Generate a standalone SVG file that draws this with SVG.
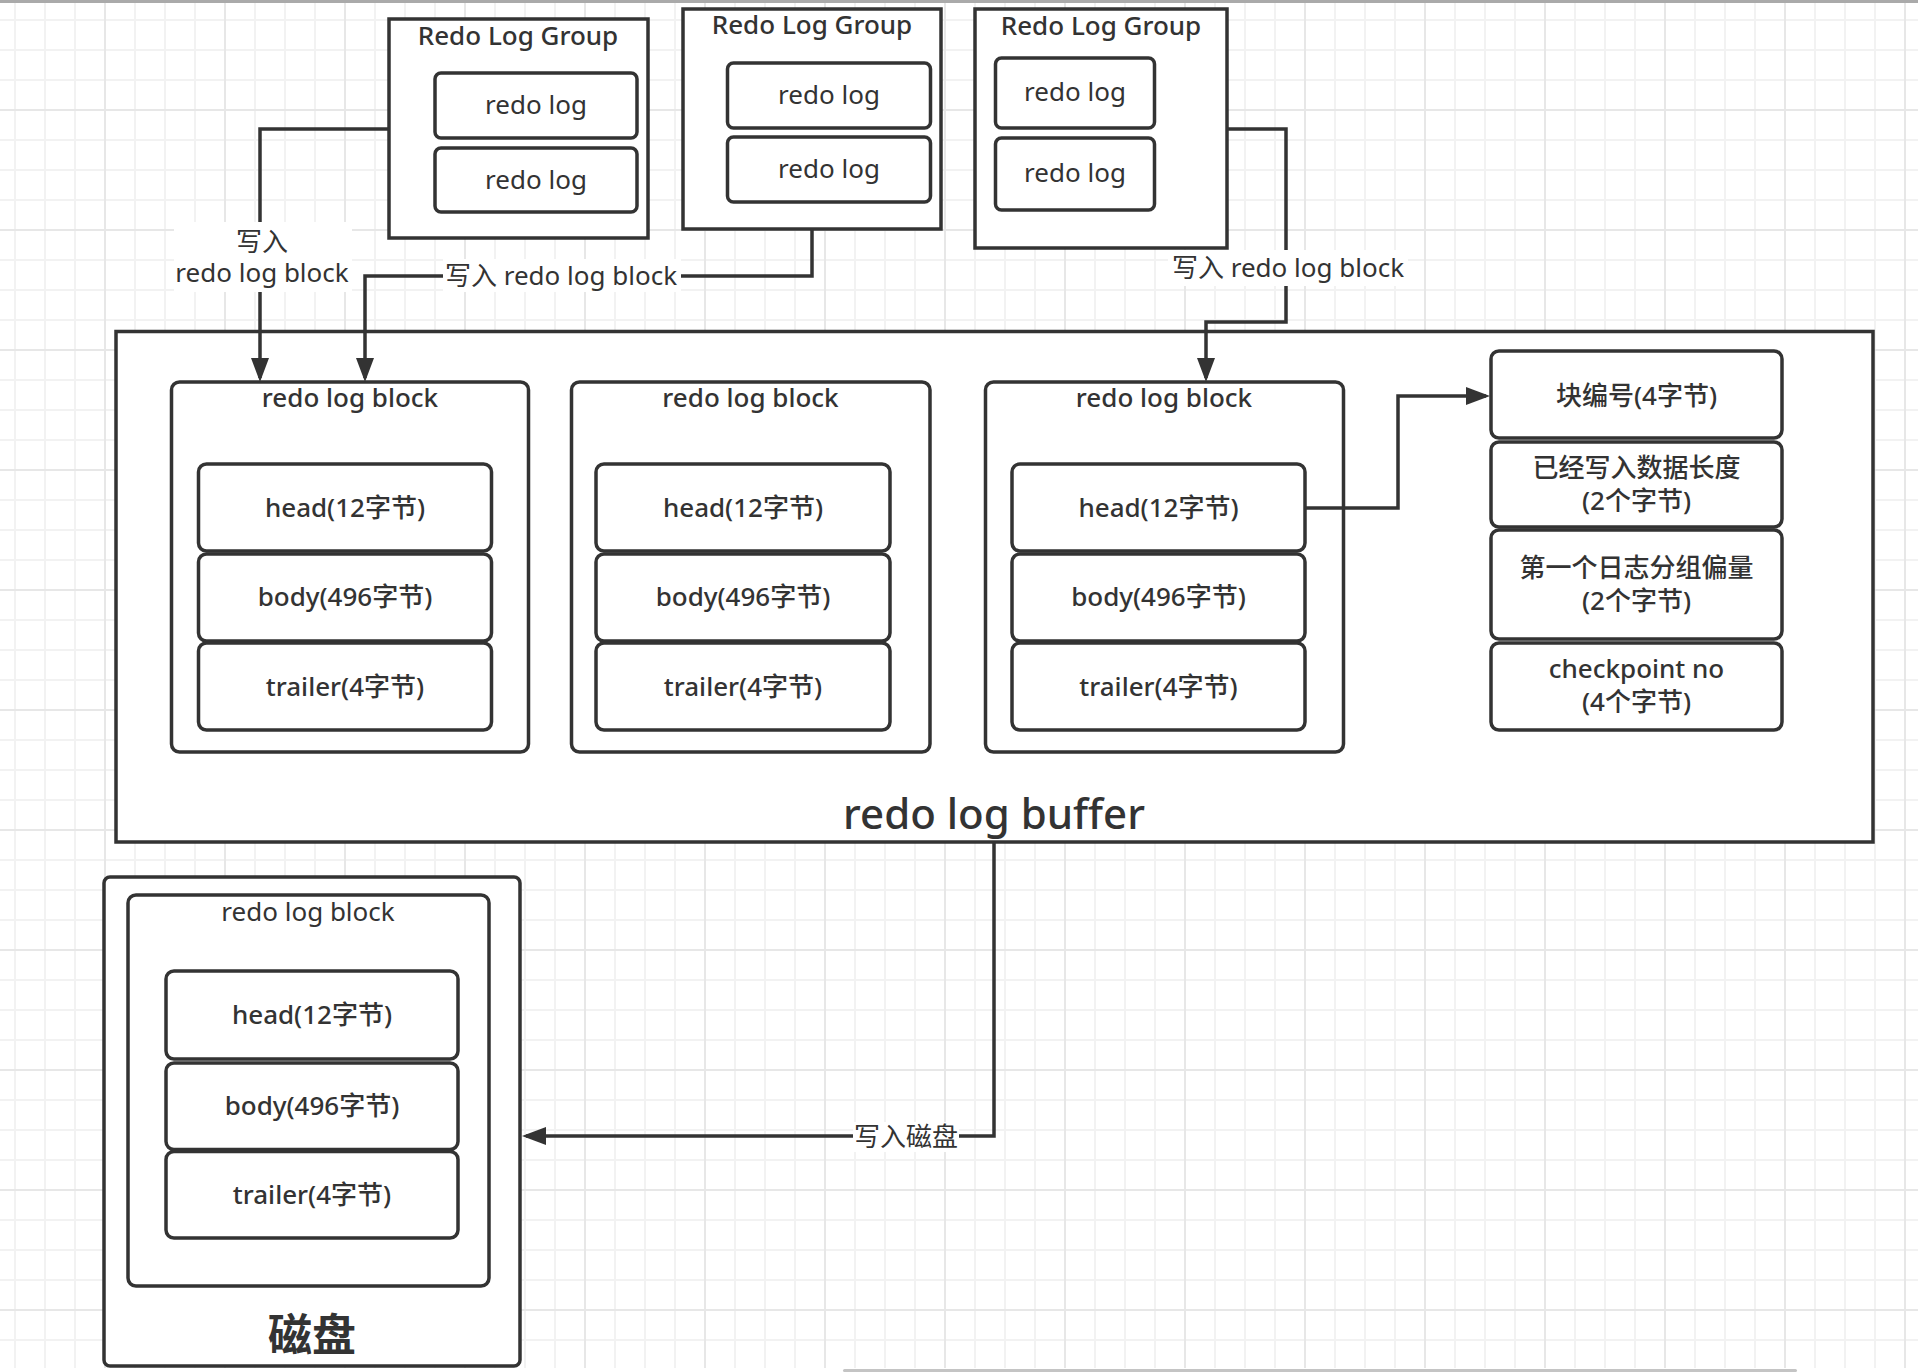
<svg xmlns="http://www.w3.org/2000/svg" width="1918" height="1372" viewBox="0 0 1918 1372">
<style>
.box{fill:#fff;stroke:#333;stroke-width:3.5}
.con{fill:none;stroke:#333;stroke-width:3.5}
.lbg{fill:#fff}
text{font-family:"Noto Sans","Noto Sans CJK SC",sans-serif;font-size:26px;fill:#333;text-anchor:middle}
.m{font-weight:500}
.big{font-size:42px;font-weight:500}
.disk{font-size:44px;font-weight:700}
</style>
<defs>
<pattern id="grid" patternUnits="userSpaceOnUse" x="14" y="19" width="120" height="120">
<path d="M1,0V120M31,0V120M61,0V120M0,1H120M0,31H120M0,61H120" stroke="#f2f2f2" stroke-width="2"/>
<path d="M91,0V120M0,91H120" stroke="#e7e7e7" stroke-width="2"/>
</pattern>
<marker id="arr" markerUnits="userSpaceOnUse" markerWidth="26" markerHeight="18" refX="20" refY="9" orient="auto">
<path d="M0,0L24,9L0,18z" fill="#333"/>
</marker>
</defs>
<rect width="1918" height="1372" fill="#fff"/>
<rect x="0" y="3" width="1918" height="1365" fill="url(#grid)"/>
<rect x="0" y="0" width="1918" height="3" fill="#aaa"/>
<rect x="843" y="1369" width="954" height="3" rx="1.5" fill="#c4c4c4"/>

<g id="group1">
<rect class="box" x="389" y="19" width="259" height="219"/>
<text class="m" x="518" y="45">Redo Log Group</text>
<rect class="box" x="435" y="73" width="202" height="65" rx="6"/>
<text x="536" y="114">redo log</text>
<rect class="box" x="435" y="148" width="202" height="64" rx="6"/>
<text x="536" y="189">redo log</text>
</g>
<g id="group2">
<rect class="box" x="683" y="9" width="258" height="220"/>
<text class="m" x="812" y="34">Redo Log Group</text>
<rect class="box" x="727.5" y="63" width="203" height="65" rx="6"/>
<text x="829" y="104">redo log</text>
<rect class="box" x="727.5" y="137" width="203" height="65" rx="6"/>
<text x="829" y="178">redo log</text>
</g>
<g id="group3">
<rect class="box" x="975" y="9" width="252" height="239"/>
<text class="m" x="1101" y="35">Redo Log Group</text>
<rect class="box" x="995.5" y="58" width="159" height="70" rx="6"/>
<text x="1075" y="101">redo log</text>
<rect class="box" x="995.5" y="138" width="159" height="72" rx="6"/>
<text x="1075" y="182">redo log</text>
</g>

<g id="buffer">
<rect class="box" x="116" y="331.5" width="1757" height="510.5"/>
<text class="big" x="994" y="829">redo log buffer</text>
</g>

<g id="block1">
<rect class="box" x="171.5" y="382" width="357" height="370" rx="8"/>
<text class="m" x="350" y="407">redo log block</text>
<rect class="box" x="198.5" y="464" width="293" height="87" rx="8"/>
<text class="m" x="345" y="517">head(12字节)</text>
<rect class="box" x="198.5" y="554" width="293" height="87" rx="8"/>
<text class="m" x="345" y="606">body(496字节)</text>
<rect class="box" x="198.5" y="643" width="293" height="87" rx="8"/>
<text class="m" x="345" y="696">trailer(4字节)</text>
</g>
<g id="block2">
<rect class="box" x="571.5" y="382" width="358.5" height="370" rx="8"/>
<text class="m" x="750.5" y="407">redo log block</text>
<rect class="box" x="596" y="464" width="294" height="87" rx="8"/>
<text class="m" x="743" y="517">head(12字节)</text>
<rect class="box" x="596" y="554" width="294" height="87" rx="8"/>
<text class="m" x="743" y="606">body(496字节)</text>
<rect class="box" x="596" y="643" width="294" height="87" rx="8"/>
<text class="m" x="743" y="696">trailer(4字节)</text>
</g>
<g id="block3">
<rect class="box" x="985.5" y="382" width="358" height="370" rx="8"/>
<text class="m" x="1164" y="407">redo log block</text>
<rect class="box" x="1012" y="464" width="293" height="87" rx="8"/>
<text class="m" x="1158.5" y="517">head(12字节)</text>
<rect class="box" x="1012" y="554" width="293" height="87" rx="8"/>
<text class="m" x="1158.5" y="606">body(496字节)</text>
<rect class="box" x="1012" y="643" width="293" height="87" rx="8"/>
<text class="m" x="1158.5" y="696">trailer(4字节)</text>
</g>

<g id="headfields">
<rect class="box" x="1491" y="351" width="291" height="87" rx="8"/>
<text class="m" x="1636.5" y="405">块编号(4字节)</text>
<rect class="box" x="1491" y="442" width="291" height="85" rx="8"/>
<text class="m" x="1636.5" y="477">已经写入数据长度</text>
<text class="m" x="1636.5" y="510">(2个字节)</text>
<rect class="box" x="1491" y="530" width="291" height="109" rx="8"/>
<text class="m" x="1636.5" y="577">第一个日志分组偏量</text>
<text class="m" x="1636.5" y="610">(2个字节)</text>
<rect class="box" x="1491" y="643" width="291" height="87" rx="8"/>
<text class="m" x="1636.5" y="678">checkpoint no</text>
<text class="m" x="1636.5" y="711">(4个字节)</text>
</g>

<g id="disk">
<rect class="box" x="104" y="877" width="416" height="489" rx="6"/>
<rect class="box" x="128" y="895" width="361" height="391" rx="8"/>
<text x="308" y="921">redo log block</text>
<rect class="box" x="166" y="971" width="292" height="88" rx="8"/>
<text class="m" x="312" y="1024">head(12字节)</text>
<rect class="box" x="166" y="1063" width="292" height="86.5" rx="8"/>
<text class="m" x="312" y="1115">body(496字节)</text>
<rect class="box" x="166" y="1151.5" width="292" height="86.5" rx="8"/>
<text class="m" x="312" y="1204">trailer(4字节)</text>
<text class="disk" x="312" y="1351">磁盘</text>
</g>

<g id="connectors">
<path class="con" d="M389,129H260V378" marker-end="url(#arr)"/>
<path class="con" d="M812,229V276H365V378" marker-end="url(#arr)"/>
<path class="con" d="M1227,129H1286V322H1206V378" marker-end="url(#arr)"/>
<path class="con" d="M1305,508H1398V396H1486" marker-end="url(#arr)"/>
<path class="con" d="M994,843V1136H526" marker-end="url(#arr)"/>
<rect class="lbg" x="174" y="222" width="178" height="70"/>
<text x="262" y="251">写入</text>
<text x="262" y="282">redo log block</text>
<rect class="lbg" x="443" y="259" width="238" height="33"/>
<text x="561" y="285">写入 redo log block</text>
<rect class="lbg" x="1168" y="250" width="240" height="36"/>
<text x="1288" y="277">写入 redo log block</text>
<rect class="lbg" x="853" y="1122" width="106" height="30"/>
<text x="906" y="1146">写入磁盘</text>
</g>
</svg>
